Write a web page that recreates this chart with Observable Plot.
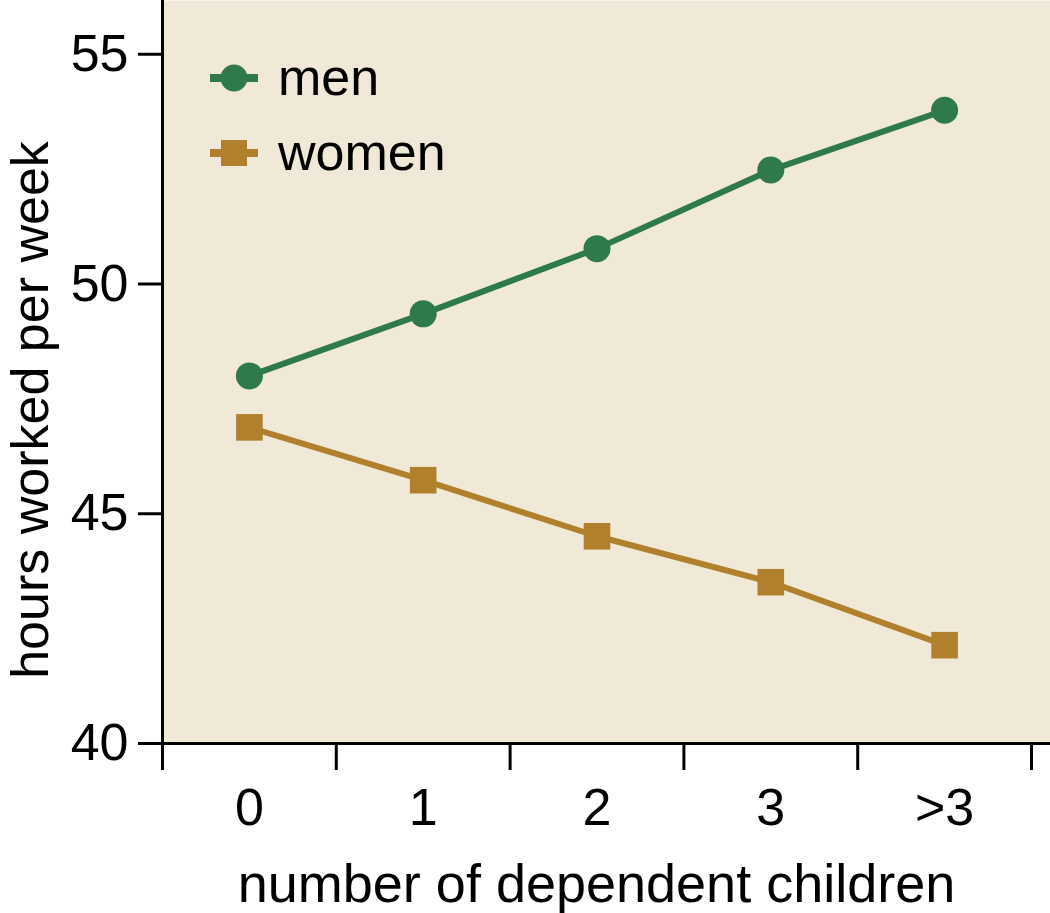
<!DOCTYPE html>
<html>
<head>
<meta charset="utf-8">
<script src="https://cdn.jsdelivr.net/npm/d3@7"></script>
<script src="https://cdn.jsdelivr.net/npm/@observablehq/plot@0.6"></script>
<style>
  html, body { margin: 0; padding: 0; background: #ffffff; }
  #wrap { position: relative; width: 1050px; height: 913px; font-family: "Liberation Sans", Arial, Helvetica, sans-serif; }
  #legend { position: absolute; left: 210px; top: 40px; }
  .row { display: flex; align-items: center; height: 75px; }
  .row svg { width: 48px; height: 30px; margin-right: 20px; }
  .row span { font-size: 52px; line-height: 75px; color: #000; }
</style>
</head>
<body>
<div id="wrap"></div>
<script>
const categories = ["0", "1", "2", "3", ">3"];
const men = [48.0, 49.35, 50.77, 52.48, 53.78];
const women = [46.88, 45.73, 44.51, 43.51, 42.14];
const seriesNames = ["men", "women"];
const seriesColors = ["#2e7a4a", "#b0802c"];
const seriesSymbols = ["circle", "square"];
const yTicks = [40, 45, 50, 55];
const xTitle = "number of dependent children";
const yTitle = "hours worked per week";

const rows = [];
[men, women].forEach((vals, s) => {
  vals.forEach((v, i) => rows.push({series: seriesNames[s], i, value: v}));
});
const edges = d3.range(categories.length + 1).map(i => i - 0.5);
const centers = d3.range(categories.length);

const font = "Liberation Sans, Arial, Helvetica, sans-serif";

const chart = Plot.plot({
  width: 1050,
  height: 913,
  marginLeft: 162,
  marginRight: 0,
  marginTop: 0,
  marginBottom: 170,
  style: {fontFamily: font, background: "transparent", color: "#000"},
  x: {type: "linear", domain: [-0.5, categories.length - 0.5], range: [162, 1031]},
  y: {domain: [40, 56.17], range: [743, 0]},
  color: {domain: seriesNames, range: seriesColors},
  symbol: {domain: seriesNames, range: seriesSymbols},
  marks: [
    Plot.frame({fill: "#f0e9d7", stroke: null}),
    Plot.line(rows, {x: "i", y: "value", z: "series", stroke: "series", strokeWidth: 6}),
    Plot.dot(rows.filter(d => d.series === "men"), {x: "i", y: "value", fill: "series", symbol: "series", r: 13.5, stroke: null}),
    Plot.dot(rows.filter(d => d.series === "women"), {x: "i", y: "value", fill: "series", symbol: "series", r: 15, stroke: null}),
    Plot.frame({anchor: "left", stroke: "#000", strokeWidth: 3}),
    Plot.frame({anchor: "bottom", stroke: "#000", strokeWidth: 3}),
    Plot.axisY({ticks: yTicks, tickSize: 24, tickPadding: 10, strokeWidth: 3, fontSize: 52, label: null, tickFormat: d => String(d)}),
    Plot.axisX({ticks: edges, tickSize: 27, strokeWidth: 3, tickFormat: () => "", label: null}),
    Plot.axisX({ticks: centers, tickSize: 0, tickPadding: 45, fontSize: 52, tickFormat: i => categories[i], label: null}),
    Plot.text([xTitle], {frameAnchor: "bottom", text: d => d, fontSize: 54, textAnchor: "middle", lineAnchor: "middle", dx: -10, dy: 141, fill: "#000"}),
    Plot.text([yTitle], {frameAnchor: "left", text: d => d, fontSize: 52, rotate: -90, textAnchor: "middle", lineAnchor: "middle", dx: -131, dy: 38, fill: "#000"})
  ]
});

const wrap = document.getElementById("wrap");
wrap.appendChild(chart);

const legend = document.createElement("div");
legend.id = "legend";
seriesNames.forEach((name, s) => {
  const row = document.createElement("div");
  row.className = "row";
  const c = seriesColors[s];
  const marker = seriesSymbols[s] === "circle"
    ? `<circle cx="24" cy="15" r="13.5" fill="${c}"/>`
    : `<rect x="11" y="2" width="26" height="26" fill="${c}"/>`;
  row.innerHTML = `<svg viewBox="0 0 48 30"><line x1="0" x2="48" y1="15" y2="15" stroke="${c}" stroke-width="8"/>${marker}</svg><span>${name}</span>`;
  legend.appendChild(row);
});
wrap.appendChild(legend);
</script>
</body>
</html>
